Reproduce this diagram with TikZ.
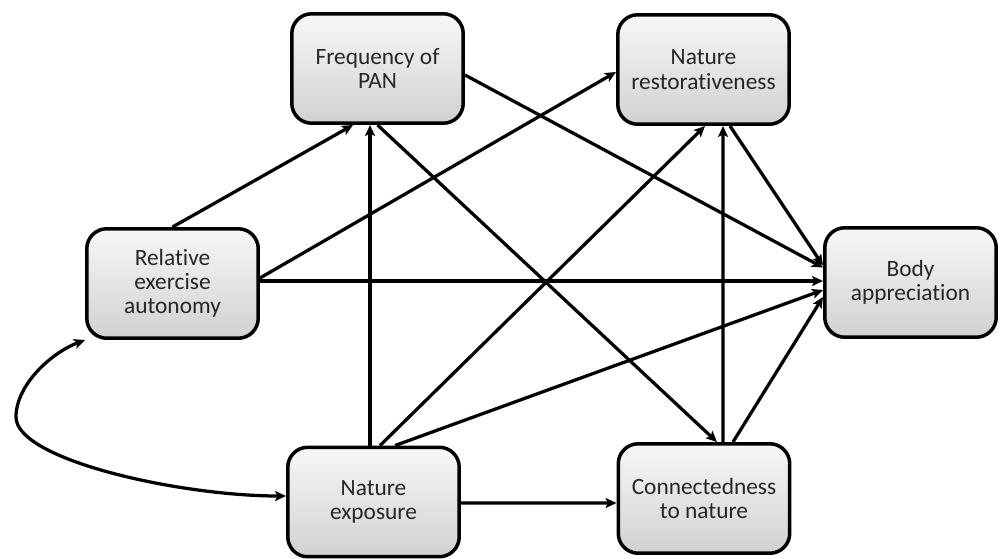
\documentclass[tikz,border=0pt]{standalone}
\usepackage{fontspec}
\setmainfont{Carlito}[Ligatures=NoCommon]
\usetikzlibrary{arrows.meta,calc}
\begin{document}
\begin{tikzpicture}[x=0.02cm,y=-0.02cm,
  box/.style={draw=black, line width=0.07cm, rounded corners=0.4cm,
    top color=black!3, bottom color=black!18,
    minimum width=3.43cm, minimum height=2.19cm, align=center,
    font=\fontsize{13.3}{13.8}\selectfont, text=black!85, inner sep=0pt},
  tip/.tip={Stealth[length=0.22cm,width=0.2cm,inset=0.05cm]},
  arr/.style={line width=0.065cm, -tip},
  biarr/.style={line width=0.065cm, tip-tip},
]
\useasboundingbox (0,0) rectangle (1000,558);

\node[box] (freq) at (377.5,68.5) {Frequency of\\PAN};
\node[box] (rest) at (703.5,69.5) {Nature\\restorativeness};
\node[box] (rel)  at (172.5,283.5) {Relative\\exercise\\autonomy};
\node[box] (body) at (910.5,282.5) {Body\\appreciation};
\node[box] (exp)  at (373.5,502) {Nature\\exposure};
\node[box] (conn) at (704,498.5) {Connectedness\\to nature};

\draw[arr] (rel.north) -- ($(freq.south)+(-24.5,0)$);
\draw[arr] ($(rel.east)+(0,-5.5)$) -- ($(rest.west)+(0,2.5)$);
\draw[arr] ($(rel.east)+(0,-2.5)$) -- ($(body.west)+(0,-1.5)$);
\draw[arr] ($(freq.east)+(0,6.5)$) -- ($(body.west)+(0,-15)$);
\draw[arr] (freq.south) -- ($(conn.north)+(13,0)$);
\draw[arr] ($(exp.north)+(-3.5,0)$) -- ($(freq.south)+(-7.5,0)$);
\draw[arr] ($(exp.north)+(6.5,0)$) -- ($(rest.south)+(1.5,0)$);
\draw[arr] ($(exp.north)+(21.5,0)$) -- ($(body.west)+(0,7.5)$);
\draw[arr] ($(exp.east)+(0,1)$) -- ($(conn.west)+(0,4.5)$);
\draw[arr] ($(conn.north)+(19,0)$) -- ($(rest.south)+(19.5,0)$);
\draw[arr] ($(conn.north)+(29,0)$) -- ($(body.west)+(0,14.5)$);
\draw[arr] ($(rest.south)+(26.5,0)$) -- ($(body.west)+(0,-17)$);

\coordinate (bend) at (16,417);
\draw[biarr] ($(exp.west)+(0,-6)$) .. controls (180,496) and (16,460) .. (bend)
  .. controls (16,385) and (51,353) .. (rel.south west);
\end{tikzpicture}
\end{document}
